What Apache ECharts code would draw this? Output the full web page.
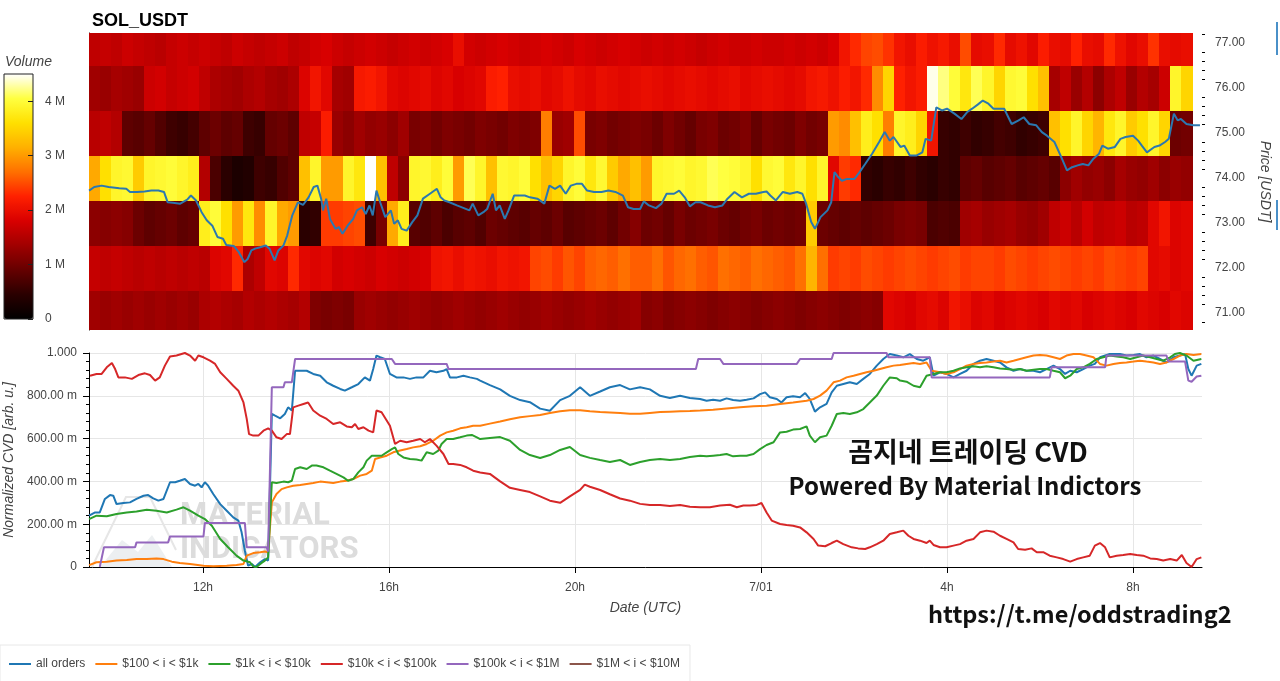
<!DOCTYPE html>
<html>
<head>
<meta charset="utf-8">
<title>SOL_USDT</title>
<script src="https://cdn.jsdelivr.net/npm/echarts@6.0.0/dist/echarts.min.js"></script>
<style>
html, body { margin: 0; padding: 0; background: #fff; }
#main { width: 1280px; height: 681px; }
</style>
</head>
<body>
<div id="main"></div>
<script>
var FONT = '"Liberation Sans", Arial, sans-serif';

// ---- heatmap: volume per price level (M), 100 time bins ----
var priceLevels = [71, 72, 73, 74, 75, 76, 77];
var vol71 = [1.35,1.3,1.35,1.3,1.35,1.3,1.35,1.3,1.35,1.3,
  1.45,1.5,1.45,1.4,1.5,1.45,1.5,1.45,1.4,1.5,
  1.1,1.05,1.1,1.05,1.3,1.35,1.3,1.25,1.3,1.35,
  1.3,1.25,1.3,1.35,1.3,1.25,1.3,1.35,1.3,1.25,
  1.3,1.35,1.3,1.25,1.3,1.35,1.3,1.25,1.3,1.35,
  1.15,1.2,1.1,1.15,1.2,1.15,1.1,1.15,1.2,1.15,
  1.1,1.15,1.2,1.15,1.1,1.15,1.2,1.15,1.1,1.15,
  1.2,1.15,1.9,1.85,1.8,1.9,1.95,1.85,2.1,2.0,
  1.85,1.9,1.8,1.85,1.9,1.85,1.8,1.9,1.85,1.9,
  1.8,1.85,1.9,1.85,1.8,1.9,1.85,1.8,1.9,1.85];
var vol72 = [1.65,1.6,1.65,1.6,1.55,1.6,1.55,1.6,1.55,1.6,
  1.55,1.85,1.9,2.3,1.45,1.6,1.9,1.85,2.3,1.9,
  1.85,1.9,1.75,1.8,1.75,1.7,1.8,1.75,1.7,1.75,
  1.8,2.05,2.1,2.0,2.1,2.05,2.0,2.1,2.05,2.1,
  2.45,2.5,2.4,2.55,2.45,2.6,2.65,2.6,2.7,2.6,
  2.6,2.7,2.55,2.65,2.7,2.6,2.55,2.7,2.65,2.6,
  2.7,2.65,2.6,2.55,2.7,3.2,2.7,2.4,2.45,2.4,
  2.5,2.45,2.4,2.45,2.5,2.45,2.4,2.45,2.5,2.4,
  2.45,2.45,2.4,2.5,2.45,2.4,2.45,2.5,2.45,2.4,
  2.45,2.4,2.5,2.45,2.4,2.45,1.9,1.95,1.85,1.9];
var vol73 = [1.2,1.15,1.2,1.15,0.95,0.85,0.9,0.95,0.85,0.9,
  3.8,4.0,3.6,3.0,3.7,2.9,3.9,3.1,3.0,0.45,
  0.5,2.4,2.4,2.45,2.5,0.6,1.05,3.1,3.8,0.8,
  0.75,0.85,0.7,0.8,0.85,0.75,0.95,0.9,0.85,0.8,
  0.9,0.85,0.95,0.8,0.85,0.9,0.95,0.85,1.0,1.15,
  0.95,1.0,0.9,1.05,0.95,1.0,1.05,0.95,0.9,1.0,
  1.05,0.95,1.0,0.95,1.0,3.4,0.95,0.9,0.85,0.9,
  0.85,0.9,0.95,1.05,1.1,1.05,0.7,0.75,0.7,1.35,
  1.4,1.3,1.35,1.4,1.3,1.25,1.35,1.6,1.7,1.55,
  1.75,1.6,1.65,1.7,1.55,1.6,1.9,2.1,1.85,1.9];
var vol74 = [3.1,3.6,3.9,3.95,3.4,3.9,3.95,4.0,3.9,3.8,
  1.5,0.7,0.45,0.3,0.35,0.6,0.55,0.75,0.85,3.3,
  3.9,3.0,3.0,3.9,3.7,4.5,3.3,1.6,1.2,3.9,
  3.95,3.8,4.0,3.0,4.1,3.9,3.3,3.95,3.9,4.0,
  3.6,3.3,3.5,3.9,4.0,3.7,3.95,3.4,3.1,3.3,
  3.0,3.9,3.95,4.0,3.9,3.95,4.1,4.05,4.0,3.9,
  3.6,3.95,4.0,3.7,3.9,3.6,3.9,1.9,2.4,2.3,
  0.5,0.45,0.55,0.5,0.6,0.5,0.45,0.55,0.5,0.85,
  0.9,0.8,0.85,0.9,0.8,0.85,0.9,0.8,1.2,1.35,
  1.25,1.3,1.2,1.4,1.3,1.25,1.35,1.2,1.3,1.25];
var vol75 = [1.55,1.6,1.5,0.85,0.8,0.9,0.75,0.6,0.55,0.65,
  0.85,0.95,0.85,0.9,0.6,0.55,0.9,0.95,0.85,1.6,
  1.65,2.2,1.3,1.2,1.35,1.25,1.3,1.2,1.35,1.05,
  1.1,1.0,1.1,1.05,1.0,1.1,1.05,1.0,1.1,1.05,
  1.1,2.8,1.3,1.35,2.5,1.05,1.1,1.0,1.05,1.1,
  1.05,0.95,1.1,1.0,0.9,1.05,1.1,0.95,1.0,1.1,
  0.9,1.05,1.0,0.95,1.1,1.0,1.05,3.0,2.9,3.3,
  3.8,3.6,2.8,3.9,3.8,3.5,2.1,0.55,0.5,0.6,
  0.5,0.55,0.65,0.6,0.5,0.55,0.6,3.3,3.6,3.9,
  3.5,3.2,3.7,3.9,3.4,3.6,3.9,3.5,0.95,1.0];
var vol76 = [1.35,1.3,1.4,1.35,1.3,1.7,1.75,1.65,1.7,1.75,
  1.6,1.45,1.4,1.35,1.45,1.5,1.4,1.35,1.45,1.85,
  2.1,1.9,1.4,1.35,2.15,2.2,2.1,1.9,1.85,1.9,
  1.95,1.85,1.9,1.8,1.85,1.9,2.2,2.25,2.0,1.95,
  2.0,1.9,1.95,2.05,1.95,1.9,2.0,1.95,1.9,1.95,
  2.0,1.95,1.9,1.95,2.0,1.95,1.9,1.95,2.0,1.9,
  1.95,2.0,1.95,1.9,1.95,2.1,2.15,2.05,2.2,2.1,
  2.3,2.9,3.5,2.25,2.1,2.2,4.45,4.2,4.0,3.7,
  4.1,3.9,3.5,3.95,4.0,3.6,3.3,1.4,1.6,1.3,
  1.5,1.2,1.45,1.6,1.3,1.5,1.4,1.7,3.9,3.5];
var vol77 = [1.6,1.65,1.6,1.7,1.65,1.6,1.55,1.65,1.7,1.65,
  1.7,1.65,1.6,1.7,1.65,1.6,1.65,1.7,1.6,1.65,
  1.75,1.8,1.7,1.65,1.7,1.75,1.7,1.65,1.7,1.75,
  1.7,1.75,1.8,2.0,1.75,1.7,1.75,1.8,1.75,1.7,
  1.75,1.8,1.75,1.7,1.8,1.75,1.7,1.75,1.8,1.75,
  1.7,1.75,1.7,1.75,1.7,1.65,1.7,1.75,1.7,1.7,
  1.75,1.7,1.7,1.75,1.7,1.75,1.7,1.8,2.1,2.3,
  2.45,2.5,2.35,2.1,2.0,2.2,2.05,2.15,2.0,2.5,
  1.95,2.0,2.3,1.95,2.05,1.9,2.2,2.0,1.95,2.25,
  2.0,1.95,2.3,2.05,1.9,2.0,2.35,2.0,1.95,2.0];
var volRows = [vol71, vol72, vol73, vol74, vol75, vol76, vol77];

// ---- price line [hour since 6/30 00:00, USDT] ----
var price = [[9.55,73.72],[9.66,73.80],[9.82,73.83],[9.97,73.80],[10.20,73.77],[10.35,73.76],[10.43,73.69],[10.58,73.69],[10.74,73.70],[10.89,73.72],[11.04,73.72],[11.16,73.69],[11.24,73.46],[11.35,73.45],[11.51,73.43],[11.66,73.52],[11.74,73.61],[11.85,73.50],[11.97,73.24],[12.08,73.06],[12.20,72.94],[12.31,72.69],[12.43,72.65],[12.50,72.51],[12.66,72.49],[12.77,72.35],[12.89,72.13],[12.96,72.20],[13.04,72.39],[13.12,72.43],[13.23,72.46],[13.35,72.50],[13.43,72.43],[13.54,72.17],[13.62,72.39],[13.73,72.50],[13.81,72.72],[13.92,73.17],[14.04,73.46],[14.15,73.40],[14.27,73.57],[14.38,73.80],[14.46,73.83],[14.54,73.54],[14.58,73.28],[14.65,73.54],[14.73,73.09],[14.85,72.87],[14.92,72.91],[15.00,72.76],[15.11,72.94],[15.23,73.09],[15.31,73.28],[15.42,73.35],[15.50,73.20],[15.58,73.39],[15.65,73.17],[15.73,73.72],[15.81,73.46],[15.92,73.13],[16.04,73.28],[16.11,72.98],[16.19,73.06],[16.27,72.87],[16.38,72.83],[16.50,73.02],[16.61,73.17],[16.73,73.54],[16.88,73.65],[17.03,73.76],[17.11,73.57],[17.19,73.50],[17.30,73.46],[17.46,73.39],[17.61,73.33],[17.73,73.28],[17.80,73.43],[17.92,73.17],[18.03,73.24],[18.11,73.31],[18.23,73.65],[18.30,73.28],[18.38,73.39],[18.49,73.09],[18.57,73.28],[18.69,73.61],[18.76,73.61],[18.92,73.61],[19.03,73.57],[19.19,73.54],[19.34,73.43],[19.45,73.83],[19.57,73.76],[19.68,73.83],[19.80,73.65],[19.91,73.83],[20.03,73.87],[20.15,73.87],[20.26,73.72],[20.41,73.69],[20.57,73.69],[20.72,73.72],[20.87,73.69],[21.03,73.61],[21.14,73.35],[21.26,73.31],
  [21.40,73.31],[21.48,73.48],[21.59,73.39],[21.74,73.33],[21.86,73.43],[21.97,73.65],[22.13,73.65],[22.24,73.72],[22.36,73.57],[22.47,73.37],[22.59,73.46],[22.70,73.46],[22.86,73.39],[23.01,73.35],[23.17,73.39],[23.28,73.54],[23.43,73.69],[23.59,73.57],[23.74,73.65],[23.89,73.65],[24.05,73.69],[24.12,73.70],[24.20,73.61],[24.32,73.50],[24.47,73.69],[24.62,73.65],[24.78,73.69],[24.89,73.65],[24.97,73.43],[25.08,73.02],[25.16,72.87],[25.28,73.13],[25.43,73.28],[25.51,73.46],[25.58,74.13],[25.66,74.02],[25.74,73.94],[25.85,73.98],[26.01,73.98],[26.12,74.13],[26.24,74.31],[26.39,74.54],[26.54,74.80],[26.66,75.02],[26.77,74.83],[26.85,74.91],[27.00,74.69],[27.08,74.72],[27.20,74.50],[27.35,74.50],[27.47,74.57],[27.54,74.87],[27.66,74.83],[27.77,75.57],[27.89,75.50],[28.00,75.54],[28.16,75.43],[28.31,75.31],[28.43,75.46],[28.54,75.54],[28.66,75.63],[28.77,75.72],[28.89,75.65],[29.00,75.54],[29.12,75.54],[29.23,75.54],[29.39,75.20],[29.54,75.28],[29.65,75.35],[29.77,75.20],[29.92,75.17],[30.04,75.02],[30.15,74.94],[30.31,74.80],[30.46,74.46],[30.58,74.17],[30.69,74.24],[30.81,74.28],[30.92,74.31],[31.04,74.28],[31.15,74.43],[31.27,74.54],[31.34,74.72],[31.46,74.65],[31.61,74.69],[31.73,74.87],[31.84,74.91],[32.00,74.94],[32.11,74.83],[32.19,74.72],[32.30,74.57],[32.46,74.69],[32.57,74.72],[32.69,74.80],[32.77,74.87],[32.88,75.43],[32.96,75.28],[33.03,75.31],[33.15,75.20],[33.30,75.17],[33.44,75.17]];

// ---- normalized CVD [hour, value] ----
var allOrders = [[9.55,0.240],[9.68,0.255],[9.78,0.255],[9.89,0.318],[10.00,0.336],[10.07,0.333],[10.14,0.294],[10.29,0.299],[10.43,0.302],[10.57,0.318],[10.72,0.333],[10.82,0.336],[10.93,0.321],[11.04,0.310],[11.15,0.318],[11.29,0.396],[11.40,0.396],[11.50,0.403],[11.61,0.411],[11.72,0.388],[11.83,0.380],[11.90,0.388],[11.97,0.372],[12.04,0.396],[12.11,0.380],[12.22,0.341],[12.37,0.294],[12.51,0.263],[12.65,0.232],[12.76,0.217],[12.83,0.162],[12.90,0.076],[12.97,0.006],[13.05,0.014],[13.12,0.000],[13.23,0.022],[13.33,0.037],[13.40,0.030],[13.48,0.715],[13.55,0.707],[13.66,0.695],[13.76,0.715],[13.83,0.746],[13.91,0.731],[13.98,0.917],[14.09,0.917],[14.23,0.917],[14.37,0.902],[14.52,0.894],[14.66,0.863],[14.80,0.847],[14.95,0.832],[15.05,0.824],[15.20,0.840],[15.34,0.855],[15.48,0.886],[15.59,0.871],[15.66,0.925],[15.73,0.988],[15.81,0.980],[15.91,0.972],[16.02,0.902],[16.16,0.886],[16.31,0.886],[16.45,0.879],[16.59,0.886],[16.74,0.886],[16.88,0.917],[17.02,0.910],[17.17,0.917],[17.24,0.925],[17.31,0.886],[17.46,0.886],[17.60,0.894],[17.74,0.886],[17.89,0.879],[17.96,0.871],
  [18.17,0.850],[18.39,0.830],[18.60,0.800],[18.82,0.780],[19.03,0.770],[19.25,0.740],[19.46,0.730],[19.68,0.780],[19.89,0.800],[20.11,0.840],[20.32,0.800],[20.54,0.820],[20.75,0.840],[20.97,0.850],[21.18,0.830],[21.40,0.840],[21.61,0.830],[21.83,0.800],[22.04,0.790],[22.26,0.800],[22.47,0.790],
  [22.69,0.785],[22.83,0.777],[22.97,0.782],[23.12,0.777],[23.26,0.788],[23.40,0.780],[23.55,0.777],[23.69,0.782],[23.84,0.788],[23.98,0.808],[24.09,0.816],[24.19,0.793],[24.34,0.785],[24.44,0.769],[24.55,0.793],[24.69,0.798],[24.84,0.793],[24.95,0.813],[25.05,0.785],[25.16,0.726],[25.27,0.746],[25.41,0.762],[25.52,0.816],[25.63,0.847],[25.77,0.855],[25.91,0.863],[26.06,0.855],[26.20,0.879],[26.34,0.902],[26.49,0.941],[26.63,0.972],[26.77,0.995],[26.92,0.988],[27.06,0.980],[27.20,0.995],[27.35,0.972],[27.49,0.964],[27.63,0.980],[27.71,0.894],[27.85,0.910],[27.99,0.902],[28.14,0.886],[28.28,0.902],[28.42,0.917],[28.57,0.949],[28.71,0.964],[28.85,0.972],[29.00,0.964],[29.14,0.956],[29.28,0.933],[29.43,0.917],[29.57,0.925],[29.71,0.917],[29.86,0.917],[30.00,0.910],[30.14,0.925],[30.29,0.941],[30.43,0.925],[30.54,0.902],[30.65,0.917],[30.79,0.910],[30.93,0.925],[31.07,0.941],[31.18,0.949],[31.29,0.980],[31.50,0.995],[31.72,0.995],[31.86,0.988],[32.01,0.991],[32.15,0.995],[32.29,0.980],[32.44,0.988],[32.58,0.972],[32.72,0.956],[32.87,0.980],[33.01,0.988],[33.12,0.995],[33.19,0.925],[33.26,0.894],[33.37,0.941],[33.47,0.949]];
var usd100to1k = [[9.55,0.009],[9.71,0.022],[9.93,0.025],[10.14,0.030],[10.36,0.033],[10.57,0.037],[10.79,0.037],[11.00,0.040],[11.15,0.037],[11.33,0.025],[11.50,0.019],[11.72,0.014],[12.01,0.006],[12.22,0.003],[12.51,0.006],[12.72,0.009],[12.87,0.014],[12.94,0.053],[13.08,0.065],[13.23,0.069],[13.33,0.072],[13.40,0.069],[13.48,0.302],[13.58,0.341],[13.69,0.364],[13.80,0.372],[13.94,0.380],[14.09,0.383],[14.23,0.388],[14.37,0.393],[14.52,0.399],[14.66,0.396],[14.80,0.393],[14.95,0.399],[15.09,0.403],[15.23,0.411],[15.38,0.427],[15.52,0.435],[15.63,0.450],[15.70,0.505],[15.81,0.512],[15.95,0.520],[16.09,0.536],[16.24,0.544],[16.38,0.551],[16.52,0.559],[16.67,0.564],[16.81,0.575],[16.95,0.590],[17.10,0.614],[17.24,0.629],[17.38,0.637],[17.53,0.648],[17.67,0.653],[17.81,0.660],[17.96,0.660],
  [18.17,0.670],[18.39,0.680],[18.60,0.690],[18.82,0.700],[19.03,0.705],[19.25,0.710],[19.46,0.720],[19.68,0.728],[19.89,0.733],[20.11,0.733],[20.32,0.728],[20.54,0.724],[20.75,0.722],[20.97,0.720],[21.18,0.716],[21.40,0.716],[21.61,0.720],[21.83,0.724],[22.04,0.726],[22.26,0.728],[22.47,0.729],
  [22.69,0.731],[22.97,0.735],[23.26,0.741],[23.55,0.746],[23.84,0.751],[24.12,0.754],[24.41,0.762],[24.69,0.769],[24.98,0.777],[25.13,0.785],[25.27,0.801],[25.41,0.824],[25.56,0.863],[25.70,0.871],[25.84,0.886],[25.99,0.894],[26.13,0.902],[26.27,0.910],[26.42,0.917],[26.56,0.925],[26.70,0.933],[26.85,0.941],[26.99,0.944],[27.13,0.949],[27.28,0.953],[27.42,0.949],[27.56,0.956],[27.67,0.917],[27.85,0.910],[27.99,0.902],[28.14,0.910],[28.28,0.925],[28.42,0.941],[28.57,0.949],[28.71,0.953],[28.85,0.956],[29.00,0.960],[29.14,0.964],[29.28,0.956],[29.43,0.964],[29.57,0.972],[29.71,0.980],[29.86,0.988],[30.00,0.991],[30.14,0.988],[30.29,0.980],[30.43,0.972],[30.57,0.988],[30.72,0.995],[30.86,0.995],[31.00,0.988],[31.15,0.980],[31.29,0.949],[31.43,0.941],[31.58,0.949],[31.72,0.953],[31.86,0.956],[32.01,0.960],[32.15,0.964],[32.29,0.960],[32.44,0.956],[32.58,0.949],[32.72,0.956],[32.87,0.972],[33.01,0.988],[33.15,0.995],[33.30,0.991],[33.47,0.995]];
var usd1kto10k = [[9.55,0.224],[9.71,0.240],[9.93,0.237],[10.14,0.248],[10.36,0.255],[10.57,0.259],[10.79,0.268],[11.00,0.263],[11.22,0.255],[11.43,0.268],[11.58,0.279],[11.72,0.263],[11.90,0.240],[12.04,0.224],[12.19,0.193],[12.37,0.131],[12.54,0.092],[12.72,0.053],[12.87,0.030],[13.01,0.022],[13.08,0.003],[13.15,0.000],[13.26,0.019],[13.33,0.030],[13.40,0.045],[13.48,0.396],[13.58,0.393],[13.73,0.399],[13.83,0.396],[13.91,0.403],[13.98,0.458],[14.09,0.466],[14.23,0.458],[14.34,0.474],[14.44,0.474],[14.59,0.466],[14.73,0.450],[14.87,0.435],[15.02,0.419],[15.12,0.403],[15.23,0.411],[15.34,0.442],[15.45,0.466],[15.52,0.497],[15.63,0.520],[15.73,0.520],[15.84,0.520],[15.95,0.536],[16.06,0.551],[16.13,0.559],[16.20,0.528],[16.31,0.512],[16.45,0.505],[16.59,0.502],[16.70,0.497],[16.81,0.536],[16.95,0.528],[17.06,0.544],[17.13,0.575],[17.24,0.598],[17.38,0.598],[17.53,0.606],[17.67,0.614],[17.78,0.617],[17.89,0.606],[17.96,0.598],
  [18.17,0.603],[18.39,0.607],[18.60,0.590],[18.82,0.547],[19.03,0.523],[19.25,0.509],[19.46,0.523],[19.68,0.547],[19.89,0.561],[20.11,0.523],[20.32,0.510],[20.54,0.500],[20.75,0.491],[20.97,0.500],[21.18,0.477],[21.40,0.491],[21.61,0.500],[21.83,0.505],[22.04,0.500],[22.26,0.505],[22.47,0.514],
  [22.69,0.520],[22.83,0.517],[22.97,0.520],[23.12,0.523],[23.26,0.528],[23.40,0.517],[23.55,0.520],[23.69,0.520],[23.84,0.528],[23.98,0.551],[24.12,0.570],[24.27,0.583],[24.41,0.629],[24.55,0.632],[24.69,0.642],[24.84,0.645],[24.98,0.657],[25.05,0.614],[25.16,0.583],[25.27,0.606],[25.41,0.614],[25.52,0.660],[25.63,0.715],[25.77,0.720],[25.91,0.715],[26.06,0.723],[26.20,0.738],[26.34,0.769],[26.49,0.801],[26.63,0.847],[26.77,0.886],[26.92,0.882],[26.99,0.871],[27.13,0.866],[27.28,0.847],[27.42,0.840],[27.56,0.894],[27.71,0.902],[27.85,0.910],[27.99,0.910],[28.14,0.917],[28.28,0.928],[28.42,0.933],[28.57,0.938],[28.71,0.933],[28.85,0.938],[29.00,0.933],[29.14,0.928],[29.28,0.925],[29.43,0.922],[29.57,0.925],[29.71,0.917],[29.86,0.922],[30.00,0.925],[30.14,0.925],[30.29,0.917],[30.43,0.910],[30.54,0.882],[30.65,0.894],[30.79,0.925],[30.93,0.933],[31.07,0.949],[31.22,0.972],[31.36,0.980],[31.50,0.988],[31.65,0.984],[31.79,0.980],[31.94,0.972],[32.08,0.980],[32.22,0.988],[32.37,0.980],[32.51,0.972],[32.65,0.964],[32.80,0.980],[32.90,0.995],[33.01,1.000],[33.15,0.988],[33.30,0.964],[33.47,0.972]];
var usd10kto100k = [[9.57,0.894],[9.71,0.902],[9.82,0.902],[9.93,0.933],[10.04,0.953],[10.11,0.925],[10.18,0.886],[10.32,0.886],[10.47,0.879],[10.61,0.897],[10.75,0.905],[10.86,0.897],[10.97,0.871],[11.07,0.886],[11.18,0.941],[11.29,0.984],[11.43,0.988],[11.61,1.000],[11.72,0.988],[11.83,0.964],[11.90,0.988],[12.01,0.980],[12.15,0.964],[12.26,0.949],[12.37,0.910],[12.51,0.879],[12.65,0.847],[12.76,0.824],[12.87,0.769],[12.94,0.692],[12.99,0.621],[13.08,0.614],[13.19,0.614],[13.30,0.637],[13.40,0.648],[13.48,0.637],[13.58,0.606],[13.69,0.598],[13.80,0.621],[13.87,0.621],[13.94,0.746],[14.05,0.754],[14.16,0.762],[14.26,0.769],[14.37,0.731],[14.52,0.707],[14.66,0.692],[14.80,0.668],[14.95,0.676],[15.09,0.657],[15.20,0.653],[15.27,0.668],[15.34,0.645],[15.45,0.653],[15.56,0.637],[15.66,0.629],[15.73,0.731],[15.84,0.723],[15.91,0.699],[16.02,0.660],[16.13,0.575],[16.24,0.590],[16.38,0.583],[16.52,0.590],[16.67,0.598],[16.77,0.583],[16.88,0.598],[17.02,0.567],[17.17,0.528],[17.28,0.481],[17.38,0.481],[17.53,0.477],[17.67,0.466],[17.81,0.450],[17.96,0.442],
  [18.17,0.435],[18.39,0.400],[18.60,0.370],[18.82,0.360],[19.03,0.350],[19.25,0.330],[19.46,0.310],[19.68,0.300],[19.89,0.330],[20.11,0.360],[20.21,0.385],[20.32,0.375],[20.54,0.360],[20.75,0.340],[20.97,0.320],[21.18,0.310],[21.40,0.295],[21.61,0.290],[21.83,0.290],[22.04,0.285],[22.26,0.290],[22.47,0.282],
  [22.69,0.279],[22.90,0.279],[23.12,0.287],[23.33,0.291],[23.48,0.279],[23.62,0.287],[23.76,0.287],[23.91,0.290],[24.01,0.299],[24.12,0.255],[24.23,0.217],[24.41,0.201],[24.55,0.196],[24.69,0.193],[24.84,0.185],[24.98,0.162],[25.13,0.131],[25.23,0.100],[25.38,0.097],[25.52,0.112],[25.63,0.123],[25.77,0.107],[25.95,0.092],[26.09,0.087],[26.24,0.084],[26.34,0.092],[26.49,0.107],[26.63,0.123],[26.77,0.154],[26.92,0.162],[27.06,0.170],[27.17,0.146],[27.28,0.131],[27.42,0.123],[27.56,0.112],[27.63,0.123],[27.71,0.103],[27.85,0.092],[27.99,0.092],[28.14,0.100],[28.28,0.107],[28.42,0.123],[28.57,0.131],[28.71,0.162],[28.85,0.170],[29.00,0.165],[29.14,0.146],[29.28,0.131],[29.43,0.115],[29.53,0.084],[29.68,0.081],[29.82,0.087],[29.93,0.069],[30.07,0.069],[30.21,0.053],[30.36,0.045],[30.50,0.037],[30.65,0.025],[30.79,0.037],[30.93,0.045],[31.07,0.053],[31.18,0.100],[31.29,0.112],[31.40,0.092],[31.50,0.045],[31.65,0.053],[31.79,0.056],[31.94,0.061],[32.08,0.056],[32.22,0.053],[32.37,0.040],[32.51,0.037],[32.65,0.030],[32.80,0.037],[32.94,0.030],[33.05,0.056],[33.15,0.019],[33.26,0.000],[33.37,0.037],[33.47,0.045]];
var usd100kto1M = [[9.78,0.000],[9.87,0.092],[10.54,0.092],[10.57,0.115],[11.25,0.115],[11.29,0.143],[12.01,0.143],[12.04,0.206],[12.90,0.206],[12.94,0.092],[13.37,0.092],[13.40,0.072],[13.44,0.072],[13.48,0.840],[13.73,0.840],[13.76,0.863],[13.91,0.863],[13.98,0.972],[16.06,0.972],[16.13,0.949],[17.24,0.949],[17.28,0.925],[22.60,0.925],[22.65,0.972],[23.12,0.972],[23.19,0.949],[24.77,0.949],[24.84,0.972],[25.52,0.972],[25.56,1.000],[26.70,1.000],[26.74,0.980],[27.63,0.980],[27.67,0.886],[30.21,0.886],[30.25,0.933],[31.40,0.933],[31.43,0.988],[32.72,0.988],[32.76,0.960],[33.12,0.960],[33.19,0.871],[33.26,0.866],[33.37,0.890],[33.47,0.894]];
var usd1Mto10M = [];

var seriesNames = ['all orders', '$100 < i < $1k', '$1k < i < $10k', '$10k < i < $100k', '$100k < i < $1M', '$1M < i < $10M'];
var seriesData = [allOrders, usd100to1k, usd1kto10k, usd10kto100k, usd100kto1M, usd1Mto10M];
var seriesColors = ['#1f77b4', '#ff7f0e', '#2ca02c', '#d62728', '#9467bd', '#8c564b'];

var priceTicks = [71, 72, 73, 74, 75, 76, 77];
var hourTicks = [12, 16, 20, 24, 28, 32];
var volTicks = [0, 1, 2, 3, 4];
var hotColors = ['#000000', '#2a0000', '#650000', '#a00000', '#d80000', '#ff2000', '#ff7000', '#ffb000', '#ffe000', '#ffff40', '#ffffff'];

var priceMinor = [];
for (var k = 70.8; k < 77.25; k += 0.2) {
    var t = Math.round(k * 10) / 10;
    if (t % 1 !== 0) priceMinor.push(t);
}

var heatData = [];
for (var r = 0; r < priceLevels.length; r++) {
    for (var c = 0; c < volRows[r].length; c++) {
        heatData.push([c, priceLevels[r], volRows[r][c]]);
    }
}

// one heatmap cell, snapped to pixels so rows don't leave seams
function renderCell(params, api) {
    var a = api.coord([api.value(0), api.value(1) + 0.5]);
    var b = api.coord([api.value(0) + 1, api.value(1) - 0.5]);
    var x0 = Math.round(a[0]), y0 = Math.round(a[1]);
    var x1 = Math.round(b[0]), y1 = Math.round(b[1]);
    var cs = params.coordSys;
    var shape = echarts.graphic.clipRectByRect(
        { x: x0, y: y0, width: x1 - x0 + 1, height: y1 - y0 + 1 },
        { x: cs.x, y: cs.y, width: cs.width, height: cs.height });
    return shape && { type: 'rect', shape: shape, style: { fill: api.visual('color'), lineWidth: 0 } };
}

function cvdLabel(v) {
    if (v === 0) return '0';
    if (Math.abs(v - 1) < 1e-9) return '1.000';
    return (v * 1000).toFixed(2) + ' m';
}

var nameStyle = { color: '#444', fontSize: 14, fontStyle: 'italic', fontFamily: FONT };
var black = { color: '#000', width: 1 };

var series = [{
    type: 'custom', xAxisIndex: 0, yAxisIndex: 0,
    renderItem: renderCell, encode: { x: 0, y: 1 },
    data: heatData, silent: true, z: 1
}, {
    type: 'line', name: 'price', xAxisIndex: 1, yAxisIndex: 0,
    data: price, showSymbol: false, symbol: 'none', silent: true, z: 5,
    lineStyle: { color: '#2b78b0', width: 2 }, itemStyle: { color: '#2b78b0' }
}];
for (var i = 0; i < seriesNames.length; i++) {
    series.push({
        type: 'line', name: seriesNames[i], xAxisIndex: 2, yAxisIndex: 2,
        data: seriesData[i], showSymbol: false, symbol: 'none', z: 3,
        lineStyle: { color: seriesColors[i], width: 2 },
        itemStyle: { color: seriesColors[i] }
    });
}

var myChart = echarts.init(document.getElementById('main'));
var option = {
    backgroundColor: '#fff',
    animation: false,
    title: {
        text: 'SOL_USDT', left: 87, top: 7,
        textStyle: { fontSize: 18, fontWeight: 'bold', color: '#000', fontFamily: FONT }
    },
    grid: [
        { left: 89, right: 78, top: 33, height: 297, outerBoundsMode: 'none' },
        { left: 89, right: 78, top: 353, height: 214, outerBoundsMode: 'none' },
        { left: 4, top: 74, width: 29, height: 245, outerBoundsMode: 'none' }
    ],
    xAxis: [
        { gridIndex: 0, type: 'value', min: 0, max: 100.9, show: false },
        { gridIndex: 0, type: 'value', min: 9.548, max: 33.484, show: false },
        {
            gridIndex: 1, type: 'value', min: 9.548, max: 33.484,
            axisLine: { lineStyle: black },
            axisTick: { customValues: hourTicks, length: 6, lineStyle: black },
            axisLabel: {
                customValues: hourTicks, margin: 15, color: '#444', fontSize: 12, fontFamily: FONT,
                formatter: function (v) { var h = Math.round(v); return h === 24 ? '7/01' : (h % 24) + 'h'; }
            },
            splitLine: { show: true, lineStyle: { color: '#e6e6e6' } },
            name: 'Date (UTC)', nameLocation: 'middle', nameGap: 34, nameTextStyle: nameStyle
        },
        { gridIndex: 2, type: 'value', min: 0, max: 1, show: false }
    ],
    yAxis: [
        {
            gridIndex: 0, type: 'value', position: 'right', min: 70.622, max: 77.222,
            axisLine: { show: true, lineStyle: black },
            axisTick: { show: true, customValues: priceTicks, length: 6, lineStyle: black },
            axisLabel: {
                customValues: priceTicks, margin: 13, color: '#444', fontSize: 12, fontFamily: FONT,
                formatter: function (v) { return v.toFixed(2); }
            },
            splitLine: { show: false },
            name: 'Price [USDT]', nameLocation: 'middle', nameRotate: -90, nameGap: 56, nameTextStyle: nameStyle
        },
        {
            gridIndex: 0, type: 'value', position: 'right', min: 70.622, max: 77.222,
            axisLine: { show: false },
            axisTick: { show: true, customValues: priceMinor, length: 3, lineStyle: black },
            axisLabel: { show: false },
            splitLine: { show: false }
        },
        {
            gridIndex: 1, type: 'value', min: 0, max: 1, interval: 0.2,
            axisLine: { show: true, lineStyle: black },
            axisTick: { show: true, length: 6, lineStyle: black },
            minorTick: { show: true, splitNumber: 5, length: 3, lineStyle: black },
            axisLabel: { margin: 12, color: '#444', fontSize: 12, fontFamily: FONT, formatter: cvdLabel },
            splitLine: { show: true, lineStyle: { color: '#e6e6e6' } },
            name: 'Normalized CVD [arb. u.]', nameLocation: 'middle', nameRotate: 90, nameGap: 73, nameTextStyle: nameStyle
        },
        // colorbar labels (right of the bar)
        {
            gridIndex: 2, type: 'value', position: 'right', min: 0, max: 4.5,
            axisLine: { show: false },
            axisTick: { show: false },
            axisLabel: {
                customValues: volTicks, margin: 12, color: '#444', fontSize: 12, fontFamily: FONT,
                formatter: function (v) { return v === 0 ? '0' : v + ' M'; }
            },
            splitLine: { show: false }
        },
        // colorbar ticks, drawn on the bar's inner right edge
        {
            gridIndex: 2, type: 'value', position: 'left', offset: -29, min: 0, max: 4.5, z: 10,
            axisLine: { show: false },
            axisTick: { show: true, customValues: volTicks, length: 5, lineStyle: { color: '#222' } },
            axisLabel: { show: false },
            splitLine: { show: false }
        }
    ],
    visualMap: {
        type: 'continuous', min: 0, max: 4.5, dimension: 2, seriesIndex: 0,
        left: 4, top: 74, itemWidth: 29, itemHeight: 245, padding: 0, z: 2,
        calculable: false, hoverLink: false,
        inRange: { color: hotColors }
    },
    legend: {
        data: seriesNames, left: 0, top: 645,
        padding: [13, 10, 13, 9], itemGap: 10, itemWidth: 22, itemHeight: 2, icon: 'rect',
        borderColor: '#e8e8e8', borderWidth: 1,
        textStyle: { fontSize: 12, color: '#444', fontFamily: FONT }
    },
    graphic: [
        { type: 'rect', z: 100, shape: { x: 4, y: 74, width: 29, height: 245 }, style: { fill: 'none', stroke: '#222', lineWidth: 1 } },
        { type: 'text', z: 100, style: { x: 5, y: 62, text: 'Volume', textVerticalAlign: 'middle', fill: '#444', fontSize: 14, fontStyle: 'italic', fontFamily: FONT } },
        // watermark
        { type: 'polyline', z: 1, shape: { points: [[92, 567], [126, 497], [150, 497], [176, 550]] }, style: { stroke: '#e6e6e6', lineWidth: 2, fill: 'none' } },
        { type: 'polygon', z: 1, shape: { points: [[100, 567], [122, 540], [138, 552], [152, 535], [172, 567]] }, style: { fill: '#eceff1' } },
        { type: 'text', z: 1, style: { x: 180, y: 516, text: 'MATERIAL', textVerticalAlign: 'middle', fill: '#dcdcdc', fontSize: 31, fontWeight: 'bold', fontFamily: 'Roboto' } },
        { type: 'text', z: 1, style: { x: 180, y: 550, text: 'INDICATORS', textVerticalAlign: 'middle', fill: '#dcdcdc', fontSize: 31, fontWeight: 'bold', fontFamily: 'Roboto' } },
        // overlay captions
        { type: 'text', z: 100, style: { x: 968, y: 452, text: '곰지네 트레이딩 CVD', textAlign: 'center', textVerticalAlign: 'middle', fill: '#111', fontSize: 27, fontWeight: 'bold', fontFamily: '"Noto Sans CJK KR"' } },
        { type: 'text', z: 100, style: { x: 965, y: 486, text: 'Powered By Material Indictors', textAlign: 'center', textVerticalAlign: 'middle', fill: '#111', fontSize: 24, fontWeight: 'bold', fontFamily: '"Noto Sans CJK KR"' } },
        { type: 'text', z: 100, style: { x: 928, y: 614, text: 'https://t.me/oddstrading2', textVerticalAlign: 'middle', fill: '#111', fontSize: 23.5, fontWeight: 'bold', fontFamily: '"Noto Sans CJK KR"' } },
        // cut-off marks at right edge
        { type: 'line', z: 100, shape: { x1: 1277, y1: 22, x2: 1277, y2: 55 }, style: { stroke: '#4a90c8', lineWidth: 2 } },
        { type: 'line', z: 100, shape: { x1: 1277, y1: 200, x2: 1277, y2: 230 }, style: { stroke: '#4a90c8', lineWidth: 2 } }
    ],
    series: series
};
myChart.setOption(option);
</script>
</body>
</html>
